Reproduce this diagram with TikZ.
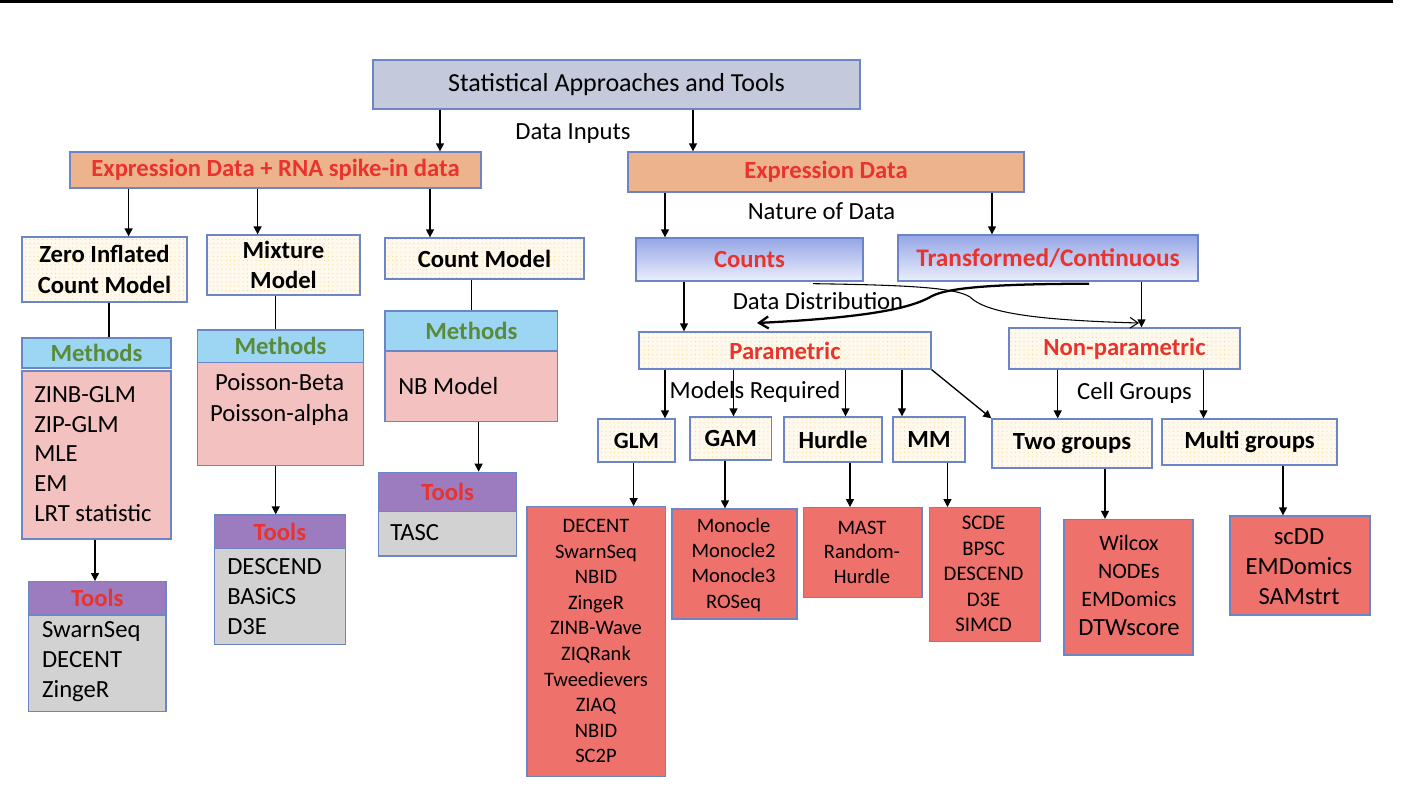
\documentclass[tikz,border=0pt]{standalone}
\usepackage{fontspec}
\setmainfont{Carlito}
\usetikzlibrary{arrows.meta,patterns.meta}
\definecolor{titlec}{HTML}{C4C9DB}
\definecolor{bordc}{HTML}{6B85C5}
\definecolor{orangec}{HTML}{ECB38D}
\definecolor{gradtop}{HTML}{95A6E6}
\definecolor{gradbot}{HTML}{EBEEFB}
\definecolor{methc}{HTML}{9DD6F3}
\definecolor{pinkc}{HTML}{F4C1C1}
\definecolor{toolh}{HTML}{9C7BBE}
\definecolor{grayc}{HTML}{D2D2D2}
\definecolor{redbox}{HTML}{EE716C}
\definecolor{redc}{HTML}{E8332E}
\definecolor{greenc}{HTML}{5A8B3B}
\definecolor{creamc}{HTML}{FEF9EC}
\definecolor{dotc}{HTML}{F0D48C}
\newcommand\myfs[2]{\fontsize{#1}{#2}\selectfont}
\begin{document}
\begin{tikzpicture}[x=0.75pt,y=-0.75pt,
  bx/.style args={#1/#2/#3/#4}{at={({(#1+#3)/2},{(#2+#4)/2})}, minimum width={(#3-#1)*0.75pt}, minimum height={(#4-#2)*0.75pt}},
  box/.style={draw=bordc, line width=1pt, inner sep=0pt, align=center},
  dotbox/.style={box, preaction={fill=creamc}, preaction={pattern={Dots[distance=3.2pt,radius=0.4pt]}, pattern color=dotc}},
  gradbox/.style={box, top color=gradtop, bottom color=gradbot},
  bblack/.style={font={\bfseries\myfs{18.5}{23}}, text=black},
  bred/.style={font={\bfseries\myfs{18.5}{23}}, text=redc},
  bgreen/.style={font={\bfseries\myfs{18.5}{23}}, text=greenc},
  plain/.style={font={\myfs{18.5}{23}}, text=black, inner sep=0pt},
  arr/.style={line width=1pt, -{Triangle[length=6pt,width=6pt]}},
  ln/.style={line width=1pt}
]
\useasboundingbox (0,0) rectangle (1410,794);
\draw[line width=1.6pt] (0,1.5) -- (1393,1.5);

% top level
\node[box, fill=titlec, bx=373/60/860/109, font=\myfs{19.5}{23}] (T) {Statistical Approaches and Tools};
\node[box, fill=orangec, bx=70/152/481/188, bred] (edr) {Expression Data + RNA spike-in data};
\node[box, fill=orangec, bx=628/152/1024/192, bred] (ed) {Expression Data};
\node[plain] (lin) at (573,134) {Data Inputs};

% left branch
\node[dotbox, bx=22/237/187/302, bblack] (zi) {Zero Inflated\\Count Model};
\node[dotbox, bx=207/235/360/295, bblack] (mx) {Mixture\\Model};
\node[dotbox, bx=385/238/584/279, bblack] (cm) {Count Model};

\node[box, fill=methc, bx=22/338/171/368, bgreen] (zimh) {Methods};
\node[box, fill=pinkc, bx=22/371/171/539] (zimb) {};
\node[plain, anchor=west, align=left, font={\myfs{18.5}{22.3}}] (zimt) at (34,454) {ZINB-GLM\\ZIP-GLM\\MLE\\EM\\LRT statistic};

\node[box, fill=methc, bx=197.5/330/363.6/362.7, bgreen] (mxmh) {Methods};
\node[box, fill=pinkc, bx=197.5/362.7/363.6/465.7] (mxmb) {};
\node[plain, align=center, font={\myfs{18.5}{23}}] (mxmt) at (279.6,399.7) {Poisson-Beta\\Poisson-alpha};

\node[box, fill=methc, bx=385/311/557.7/351, bgreen] (cmmh) {Methods};
\node[box, fill=pinkc, bx=385/351/557.7/421.7] (cmmb) {};
\node[plain, anchor=west] (cmmt) at (398,386) {NB Model};

\node[box, fill=toolh, bx=28.6/581.7/166/615, bred] (zith) {Tools};
\node[box, fill=grayc, bx=28.6/615/166/711.7] (zitb) {};
\node[plain, anchor=west, align=left, font={\myfs{18.5}{22.5}}] (zitt) at (41.8,662) {SwarnSeq\\DECENT\\ZingeR};

\node[box, fill=toolh, bx=214.3/515/345.4/548.3, bred] (mxth) {Tools};
\node[box, fill=grayc, bx=214.3/548.3/345.4/644.3] (mxtb) {};
\node[plain, anchor=west, align=left, font={\myfs{18.5}{22.5}}] (mxtt) at (227,596.7) {DESCEND\\BASiCS\\D3E};

\node[box, fill=toolh, bx=378.6/472.3/516.8/511.7, bred] (cmth) {Tools};
\node[box, fill=grayc, bx=378.6/511.7/516.8/556] (cmtb) {};
\node[plain, anchor=west] (cmtt) at (390,533) {TASC};

% right branch
\node[plain] (lnat) at (821.5,211) {Nature of Data};
\node[gradbox, bx=636/238/863/281, bred] (ct) {Counts};
\node[gradbox, bx=898/235/1198/281, bred, font={\bfseries\myfs{19}{23}}] (tc) {Transformed/Continuous};
\node[plain] (ldd) at (818,301) {Data Distribution};
\node[dotbox, bx=639/332/931/369, bred] (pa) {Parametric};
\node[dotbox, bx=1009/328/1240/369, bred] (np) {Non-parametric};
\node[plain] (lmr) at (755,392) {Models Required};
\node[plain] (lcg) at (1134.5,393) {Cell Groups};

\node[dotbox, bx=598/419/675/462, bblack, font={\bfseries\myfs{17.5}{21}}] (glm) {GLM};
\node[dotbox, bx=690/417/771.6/460, bblack] (gam) {GAM};
\node[dotbox, bx=784/417/882/462, bblack] (hu) {Hurdle};
\node[dotbox, bx=893/417/965/462, bblack] (mm) {MM};
\node[dotbox, bx=992/419/1152/468, bblack] (tg) {Two groups};
\node[dotbox, bx=1162/419/1337/465, bblack] (mg) {Multi groups};

\node[box, fill=redbox, bx=527/506.7/665.7/776.7] (glmt) {};
\node[plain, align=center, font={\myfs{15.4}{19.2}}] (glmtt) at (596,641) {DECENT\\SwarnSeq\\NBID\\ZingeR\\ZINB-Wave\\ZIQRank\\Tweedievers\\ZIAQ\\NBID\\SC2P};
\node[box, fill=redbox, bx=672/509/797/619] (gamt) {};
\node[plain, align=center, font={\myfs{15.4}{19}}] (gamtt) at (733.6,564.8) {Monocle\\Monocle2\\Monocle3\\ROSeq};
\node[box, fill=redbox, bx=803.6/507.7/922/597.7] (hut) {};
\node[plain, align=center, font={\myfs{15.4}{18.6}}] (hutt) at (862,552.4) {MAST\\Random-\\Hurdle};
\node[box, fill=redbox, bx=929.6/507.7/1040.7/641.7] (mmt) {};
\node[plain, align=center, font={\myfs{15.6}{19.1}}] (mmtt) at (983.6,574) {SCDE\\BPSC\\DESCEND\\D3E\\SIMCD};
\node[box, fill=redbox, bx=1064/519.5/1193/655] (tgt) {};
\node[plain, align=center, font={\myfs{16.5}{21.1}}] (tgtt) at (1129,585.3) {Wilcox\\NODEs\\EMDomics\\\myfs{18.5}{21.1}DTWscore};
\node[box, fill=redbox, bx=1230/516/1370/615] (mgt) {};
\node[plain, align=center, font={\myfs{18.5}{22.5}}] (mgtt) at (1299,566.4) {scDD\\EMDomics\\SAMstrt};

% x positions of connectors
\coordinate (x1) at (440,0);
\coordinate (x2) at (693,0);
\coordinate (x3) at (128.6,0);
\coordinate (x4) at (257.6,0);
\coordinate (x5) at (430,0);
\coordinate (x6) at (665,0);
\coordinate (x7) at (992,0);
\coordinate (x8) at (109,0);
\coordinate (x9) at (275.7,0);
\coordinate (x10) at (471.4,0);
\coordinate (x11) at (95,0);
\coordinate (x12) at (478.6,0);
\coordinate (x13) at (684,0);
\coordinate (x14) at (1141.5,0);
\coordinate (x15) at (733.5,0);
\coordinate (x16) at (845.5,0);
\coordinate (x17) at (902,0);
\coordinate (x18) at (1057.7,0);
\coordinate (x19) at (1203.5,0);
\coordinate (x20) at (633.6,0);
\coordinate (x21) at (725,0);
\coordinate (x22) at (850,0);
\coordinate (x23) at (947.5,0);
\coordinate (x24) at (1105,0);
\coordinate (x25) at (1283,0);
\coordinate (x26) at (1089,0);
\coordinate (x27) at (813,0);
\coordinate (tipL) at (757,323);
\coordinate (tipR) at (1139,323);

\draw[arr] (T.south -| x1) -- (edr.north -| x1);
\draw[arr] (T.south -| x2) -- (ed.north -| x2);
\draw[arr] (edr.south -| x3) -- (zi.north -| x3);
\draw[arr] (edr.south -| x4) -- (mx.north -| x4);
\draw[arr] (edr.south -| x5) -- (cm.north -| x5);
\draw[arr] (ed.south -| x6) -- (ct.north -| x6);
\draw[arr] (ed.south -| x7) -- (tc.north -| x7);
\draw[ln] (zi.south -| x8) -- (zimh.north -| x8);
\draw[ln] (mx.south -| x9) -- (mxmh.north -| x9);
\draw[ln] (cm.south -| x10) -- (cmmh.north -| x10);
\draw[arr] (zimb.south -| x11) -- (zith.north -| x11);
\draw[arr] (mxmb.south -| x9) -- (mxth.north -| x9);
\draw[arr] (cmmb.south -| x12) -- (cmth.north -| x12);
\draw[arr] (ct.south -| x13) -- (pa.north -| x13);
\draw[arr] (tc.south -| x14) -- (np.north -| x14);
\draw[arr] (pa.south -| x6) -- (glm.north -| x6);
\draw[arr] (pa.south -| x15) -- (gam.north -| x15);
\draw[arr] (pa.south -| x16) -- (hu.north -| x16);
\draw[arr] (pa.south -| x17) -- (mm.north -| x17);
\draw[arr] (pa.south east) -- (tg.north west);
\draw[arr] (np.south -| x18) -- (tg.north -| x18);
\draw[arr] (np.south -| x19) -- (mg.north -| x19);
\draw[arr] (glm.south -| x20) -- (glmt.north -| x20);
\draw[arr] (gam.south -| x21) -- (gamt.north -| x21);
\draw[arr] (hu.south -| x22) -- (hut.north -| x22);
\draw[arr] (mm.south -| x23) -- (mmt.north -| x23);
\draw[arr] (tg.south -| x24) -- (tgt.north -| x24);
\draw[arr] (mg.south -| x25) -- (mgt.north -| x25);

% crossing curves
\draw[line width=1.7pt, -{Straight Barb[length=7pt,width=9pt]}] ([yshift=-1.5pt]tc.south -| x26) .. controls (1000,284) and (950,287) .. (932,296) .. controls (915,306) and (880,317) .. (tipL);
\draw[line width=0.8pt, -{Straight Barb[length=6pt,width=8pt]}] ([yshift=-1.5pt]ct.south -| x27) .. controls (900,285) and (955,287) .. (970,297) .. controls (985,312) and (1030,320) .. (tipR);
\end{tikzpicture}
\end{document}
